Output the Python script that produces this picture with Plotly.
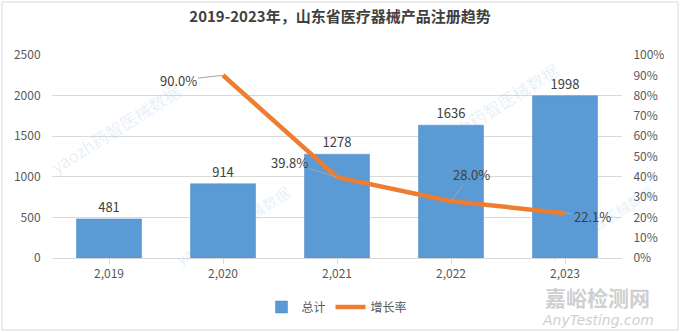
import plotly.graph_objects as go

years = ["2019", "2020", "2021", "2022", "2023"]
tick_labels = ["2,019", "2,020", "2,021", "2,022", "2,023"]
totals = [481, 914, 1278, 1636, 1998]
growth = [None, 0.900, 0.398, 0.280, 0.221]
growth_labels = ["", "90.0%", "39.8%", "28.0%", "22.1%"]

FONT = "Noto Sans CJK SC"
TXT = "#404040"

fig = go.Figure()
fig.add_trace(go.Bar(
    x=years, y=totals, name="总计", width=0.57,
    marker=dict(color="#5b9bd5", line=dict(color="#4a86c4", width=0.5)),
    text=[str(v) for v in totals], textposition="outside", cliponaxis=False,
    textfont=dict(size=13, color=TXT, family=FONT),
))
fig.add_trace(go.Scatter(
    x=years, y=growth, name="增长率", yaxis="y2", mode="lines",
    line=dict(color="#ed7d31", width=4.5), connectgaps=False,
))

# faint watermarks
wm = [(115, 128, 17), (493, 107, 17), (232, 225, 15), (600, 222, 14)]
for (px, py, fs) in wm:
    fig.add_annotation(text="yaozh药智医械数据", xref="paper", yref="paper",
                       x=(px - 52) / 570, y=(258 - py) / 203, showarrow=False,
                       xanchor="center", yanchor="middle", textangle=-32,
                       font=dict(size=fs, color="rgba(91,155,213,0.16)", family=FONT))

# line labels with leader lines (x given as category index)
offsets = [None, (-45, 5), (-48, -15), (20, -27), (27, 3)]
for i, (yv, lab, off) in enumerate(zip(growth, growth_labels, offsets)):
    if yv is None:
        continue
    ax, ay = off
    fig.add_annotation(
        x=i, y=yv, xref="x", yref="y2", text=lab, showarrow=True,
        arrowhead=0, arrowwidth=1, arrowcolor="#a6a6a6", ax=ax, ay=ay,
        font=dict(size=13, color=TXT, family=FONT), xanchor="center",
        standoff=0,
    )

fig.update_layout(
    width=680, height=332,
    margin=dict(l=52, r=58, t=55, b=74, autoexpand=False),
    paper_bgcolor="white", plot_bgcolor="white",
    font=dict(family=FONT, color="#595959", size=12),
    title=dict(text="<b>2019-2023年，山东省医疗器械产品注册趋势</b>",
               x=0.5, xanchor="center", y=0.95, yanchor="middle",
               font=dict(size=15, color=TXT, family=FONT)),
    xaxis=dict(type="category", range=[-0.5, 4.5],
               tickmode="array", tickvals=years, ticktext=tick_labels,
               showline=True, linecolor="#d9d9d9", linewidth=1,
               ticks="outside", ticklen=5, tickcolor="#d9d9d9",
               showgrid=False, tickfont=dict(size=12, color="#595959")),
    yaxis=dict(range=[0, 2500], dtick=500, showgrid=True, gridcolor="#d9d9d9",
               gridwidth=1, zeroline=False, ticks="outside", ticklen=8,
               tickcolor="rgba(0,0,0,0)",
               tickfont=dict(size=12, color="#595959")),
    yaxis2=dict(range=[0, 1.0], dtick=0.1, tickformat=".0%", overlaying="y",
                side="right", showgrid=False, zeroline=False,
                ticks="outside", ticklen=8, tickcolor="rgba(0,0,0,0)",
                tickfont=dict(size=12, color="#595959")),
    legend=dict(orientation="h", x=0.5, xanchor="center",
                yref="container", y=1 - 307 / 332,
                yanchor="middle", font=dict(size=12, color="#595959"),
                traceorder="normal"),
    showlegend=True,
)

# chart border
fig.add_shape(type="rect", xref="paper", yref="paper",
              x0=-50/570, x1=1 + 56/570, y0=-72/203, y1=1 + 53/203,
              line=dict(color="#d9d9d9", width=1), layer="below")

# watermark
fig.add_annotation(text="<b>嘉峪检测网</b>", xref="paper", yref="paper",
                   x=(597-52)/570, y=-(297-258)/203, showarrow=False,
                   xanchor="center", yanchor="middle", borderpad=0,
                   font=dict(size=21, color="#cfcfcf", family=FONT))
fig.add_annotation(text="<i>AnyTesting.com</i>", xref="paper", yref="paper",
                   x=(598-52)/570, y=-(320-258)/203, showarrow=False,
                   xanchor="center", yanchor="middle", borderpad=0,
                   font=dict(size=14, color="#cfcfcf", family="DejaVu Sans"))

fig.write_html("out.html")
